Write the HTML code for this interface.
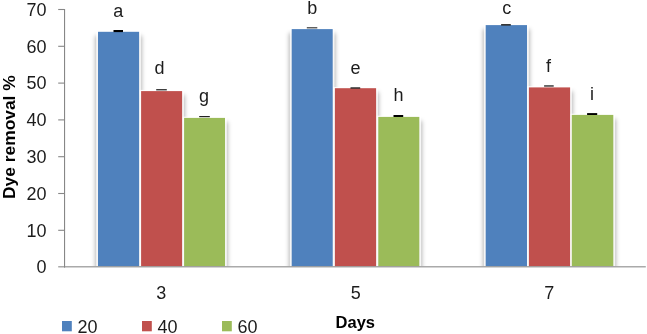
<!DOCTYPE html>
<html><head><meta charset="utf-8"><title>Dye removal chart</title>
<style>
html,body{margin:0;padding:0;background:#fff;}
body{width:647px;height:334px;overflow:hidden;position:relative;}
svg{position:absolute;left:0;top:0;display:block;}
text{font-family:"Liberation Sans",Arial,sans-serif;fill:#1c1c1c;}
.t{font-size:18px;}
.b{font-weight:bold;fill:#000;}
</style></head><body>
<svg width="647" height="334" viewBox="0 0 647 334">
<defs>
<filter id="bl" x="-30%" y="-10%" width="160%" height="120%"><feGaussianBlur stdDeviation="2.2"/></filter>
<clipPath id="cp"><rect x="64.6" y="0" width="583" height="266.2"/></clipPath>
</defs>
<rect width="647" height="334" fill="#fff"/>

<g clip-path="url(#cp)"><g filter="url(#bl)" fill="#000" fill-opacity="0.29">
<rect x="95.3" y="35.8" width="46.5" height="244.4"/>
<rect x="138.4" y="95.1" width="46.4" height="185.1"/>
<rect x="181.4" y="121.9" width="46.3" height="158.3"/>
<rect x="289.0" y="33.1" width="46.4" height="247.1"/>
<rect x="332.2" y="92.2" width="46.6" height="188.0"/>
<rect x="375.6" y="120.9" width="46.4" height="159.3"/>
<rect x="483.0" y="29.1" width="46.7" height="251.1"/>
<rect x="526.2" y="91.4" width="46.6" height="188.8"/>
<rect x="569.1" y="118.9" width="46.9" height="161.3"/>
</g>
<rect x="96.2" y="30.6" width="44.7" height="239.4" fill="#fff" fill-opacity="0.84"/>
<rect x="139.3" y="89.9" width="44.6" height="180.1" fill="#fff" fill-opacity="0.84"/>
<rect x="182.3" y="116.7" width="44.5" height="153.3" fill="#fff" fill-opacity="0.84"/>
<rect x="289.9" y="27.9" width="44.6" height="242.1" fill="#fff" fill-opacity="0.84"/>
<rect x="333.1" y="87.0" width="44.8" height="183.0" fill="#fff" fill-opacity="0.84"/>
<rect x="376.5" y="115.7" width="44.6" height="154.3" fill="#fff" fill-opacity="0.84"/>
<rect x="483.9" y="23.9" width="44.9" height="246.1" fill="#fff" fill-opacity="0.84"/>
<rect x="527.1" y="86.2" width="44.8" height="183.8" fill="#fff" fill-opacity="0.84"/>
<rect x="570.0" y="113.7" width="45.1" height="156.3" fill="#fff" fill-opacity="0.84"/>
</g>
<rect x="98.0" y="31.8" width="41.1" height="234.4" fill="#4f81bd"/>
<rect x="141.1" y="91.1" width="41.0" height="175.1" fill="#c0504d"/>
<rect x="184.1" y="117.9" width="40.9" height="148.3" fill="#9bbb59"/>
<rect x="291.7" y="29.1" width="41.0" height="237.1" fill="#4f81bd"/>
<rect x="334.9" y="88.2" width="41.2" height="178.0" fill="#c0504d"/>
<rect x="378.3" y="116.9" width="41.0" height="149.3" fill="#9bbb59"/>
<rect x="485.7" y="25.1" width="41.3" height="241.1" fill="#4f81bd"/>
<rect x="528.9" y="87.4" width="41.2" height="178.8" fill="#c0504d"/>
<rect x="571.8" y="114.9" width="41.5" height="151.3" fill="#9bbb59"/>
<rect x="113.5" y="30.0" width="9.5" height="2.1" fill="#000"/>
<rect x="156.2" y="89.1" width="10.6" height="1.3" fill="#2a2a2a"/>
<rect x="199.2" y="116.0" width="10.6" height="1.2" fill="#222"/>
<rect x="306.8" y="27.2" width="10.5" height="1.2" fill="#3a3a3a"/>
<rect x="350.5" y="87.3" width="9.7" height="1.4" fill="#222"/>
<rect x="393.5" y="115.0" width="9.7" height="2.0" fill="#000"/>
<rect x="501.1" y="24.1" width="9.7" height="1.5" fill="#222"/>
<rect x="544.1" y="85.1" width="9.6" height="1.7" fill="#555"/>
<rect x="587.1" y="113.1" width="10.1" height="1.9" fill="#000"/>
<rect x="64" y="9" width="1.1" height="258.6" fill="#878787"/>
<rect x="58.2" y="266.3" width="587.6" height="1.05" fill="#878787"/>
<rect x="58.2" y="229.75" width="6" height="1.1" fill="#878787"/>
<rect x="58.2" y="192.95" width="6" height="1.1" fill="#878787"/>
<rect x="58.2" y="156.15" width="6" height="1.1" fill="#878787"/>
<rect x="58.2" y="119.35" width="6" height="1.1" fill="#878787"/>
<rect x="58.2" y="82.55" width="6" height="1.1" fill="#878787"/>
<rect x="58.2" y="45.75" width="6" height="1.1" fill="#878787"/>
<rect x="58.2" y="8.95" width="6" height="1.1" fill="#878787"/>
<text class="t" x="46.6" y="273.3" text-anchor="end">0</text>
<text class="t" x="46.6" y="236.5" text-anchor="end">10</text>
<text class="t" x="46.6" y="199.7" text-anchor="end">20</text>
<text class="t" x="46.6" y="162.9" text-anchor="end">30</text>
<text class="t" x="46.6" y="126.1" text-anchor="end">40</text>
<text class="t" x="46.6" y="89.3" text-anchor="end">50</text>
<text class="t" x="46.6" y="52.5" text-anchor="end">60</text>
<text class="t" x="46.6" y="15.7" text-anchor="end">70</text>
<text class="t" x="161.3" y="299" text-anchor="middle">3</text>
<text class="t" x="355.8" y="299" text-anchor="middle">5</text>
<text class="t" x="549.2" y="299" text-anchor="middle">7</text>
<text class="t" x="118.2" y="16.5" text-anchor="middle">a</text>
<text class="t" x="159.6" y="74.0" text-anchor="middle">d</text>
<text class="t" x="204.0" y="102.0" text-anchor="middle">g</text>
<text class="t" x="312.2" y="14.0" text-anchor="middle">b</text>
<text class="t" x="355.5" y="74.2" text-anchor="middle">e</text>
<text class="t" x="398.5" y="101.2" text-anchor="middle">h</text>
<text class="t" x="506.8" y="13.7" text-anchor="middle">c</text>
<text class="t" x="548.4" y="71.8" text-anchor="middle">f</text>
<text class="t" x="592.1" y="99.6" text-anchor="middle">i</text>
<text class="b" font-size="17.4" transform="translate(15,199) rotate(-90)">Dye removal %</text>
<text class="b" font-size="16.5" x="355.3" y="328.3" text-anchor="middle">Days</text>
<rect x="62.0" y="321" width="9.8" height="10.3" fill="#4f81bd"/>
<text class="t" x="77.6" y="332.5">20</text>
<rect x="142.0" y="321" width="9.8" height="10.3" fill="#c0504d"/>
<text class="t" x="157.6" y="332.5">40</text>
<rect x="222.0" y="321" width="9.8" height="10.3" fill="#9bbb59"/>
<text class="t" x="237.6" y="332.5">60</text>
</svg></body></html>
